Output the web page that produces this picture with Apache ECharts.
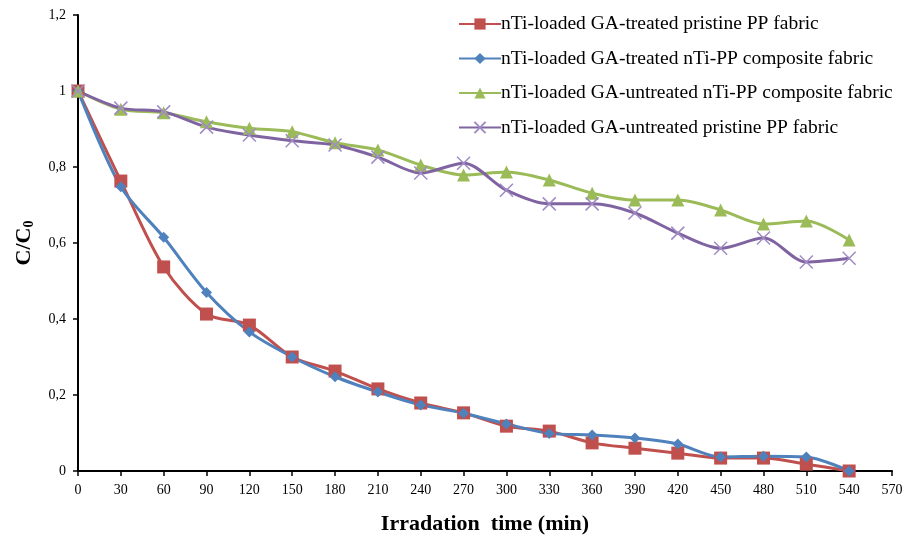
<!DOCTYPE html>
<html>
<head>
<meta charset="utf-8">
<script src="https://cdn.jsdelivr.net/npm/echarts@6/dist/echarts.min.js"></script>
<style>
  html, body { margin: 0; padding: 0; background: #fff; }
  #chart { width: 918px; height: 535px; }
</style>
</head>
<body>
<div id="chart"></div>
<script>
// irradiation time (min)
const times = [0, 30, 60, 90, 120, 150, 180, 210, 240, 270, 300, 330, 360, 390, 420, 450, 480, 510, 540];

const seriesNames = [
  'nTi-loaded GA-treated pristine PP fabric',
  'nTi-loaded GA-treated nTi-PP composite fabric',
  'nTi-loaded GA-untreated nTi-PP composite fabric',
  'nTi-loaded GA-untreated pristine PP fabric'
];

// C/C0 values
const treatedPristine = [1, 0.763, 0.537, 0.413, 0.384, 0.30, 0.263, 0.216, 0.179, 0.153, 0.118, 0.105, 0.074, 0.060, 0.047, 0.034, 0.034, 0.018, 0];
const treatedComposite = [1, 0.748, 0.615, 0.470, 0.366, 0.30, 0.248, 0.208, 0.174, 0.152, 0.124, 0.099, 0.095, 0.087, 0.071, 0.037, 0.039, 0.037, 0];
const untreatedComposite = [1, 0.952, 0.943, 0.919, 0.902, 0.893, 0.864, 0.845, 0.805, 0.779, 0.787, 0.766, 0.731, 0.713, 0.713, 0.687, 0.650, 0.658, 0.608];
const untreatedPristine = [1, 0.955, 0.945, 0.905, 0.884, 0.869, 0.858, 0.826, 0.784, 0.810, 0.739, 0.703, 0.703, 0.679, 0.626, 0.586, 0.613, 0.550, 0.560];

const colors = ['#C0504D', '#4F81BD', '#9BBB59', '#8064A2'];
const serif = '"Liberation Serif", "DejaVu Serif", serif';

function pairs(values) {
  return times.map((t, i) => [t, values[i]]);
}

function makeSeries(name, values, color, symbol, size, extraItem) {
  return {
    name: name,
    type: 'line',
    data: pairs(values),
    smooth: 0.3,
    symbol: symbol,
    symbolSize: size,
    showAllSymbol: true,
    lineStyle: { color: color, width: 3 },
    itemStyle: Object.assign({ color: color }, extraItem || {}),
    emphasis: { disabled: true }
  };
}

const chart = echarts.init(document.getElementById('chart'));
chart.setOption({
  animation: false,
  backgroundColor: '#fff',
  color: colors,
  grid: { left: 78, right: 26, top: 15, bottom: 64, containLabel: false, outerBoundsMode: 'none' },
  legend: {
    orient: 'vertical',
    left: 453,
    top: 9,
    itemWidth: 42,
    itemHeight: 14,
    itemGap: 14.5,
    textStyle: { fontFamily: serif, fontSize: 19.5, color: '#000', padding: [0, 0, 0, -5] },
    data: seriesNames
  },
  xAxis: {
    type: 'value',
    min: 0,
    max: 570,
    interval: 30,
    name: 'Irradation  time (min)',
    nameLocation: 'middle',
    nameGap: 42,
    nameTextStyle: { fontFamily: serif, fontSize: 22, fontWeight: 'bold', color: '#000' },
    axisLine: { lineStyle: { color: '#000', width: 2 } },
    axisTick: { show: true, length: 5, lineStyle: { color: '#000', width: 1.5 } },
    axisLabel: { fontFamily: serif, fontSize: 14, color: '#000', margin: 12 },
    splitLine: { show: false }
  },
  yAxis: {
    type: 'value',
    min: 0,
    max: 1.2,
    interval: 0.2,
    name: '{m|C/C}{s|0}',
    nameLocation: 'middle',
    nameGap: 42,
    nameRotate: 90,
    nameTextStyle: {
      rich: {
        m: { fontFamily: serif, fontSize: 22, fontWeight: 'bold', color: '#000' },
        s: { fontFamily: serif, fontSize: 14, fontWeight: 'bold', color: '#000', verticalAlign: 'bottom', padding: [9, 0, 0, 0] }
      }
    },
    axisLine: { show: true, lineStyle: { color: '#000', width: 2 } },
    axisTick: { show: true, length: 5, lineStyle: { color: '#000', width: 1.5 } },
    axisLabel: {
      fontFamily: serif, fontSize: 14, color: '#000', margin: 12,
      formatter: v => String(Math.round(v * 10) / 10).replace('.', ',')
    },
    splitLine: { show: false }
  },
  series: [
    makeSeries(seriesNames[0], treatedPristine, colors[0], 'rect', 13),
    makeSeries(seriesNames[1], treatedComposite, colors[1], 'path://M5,0L10,5L5,10L0,5Z', 11),
    makeSeries(seriesNames[2], untreatedComposite, colors[2], 'triangle', 13),
    makeSeries(seriesNames[3], untreatedPristine, colors[3], 'path://M0,0L10,10M10,0L0,10', 13,
      { color: 'rgba(0,0,0,0)', borderColor: '#A08BC4', borderWidth: 1.5 })
  ]
});
</script>
</body>
</html>
